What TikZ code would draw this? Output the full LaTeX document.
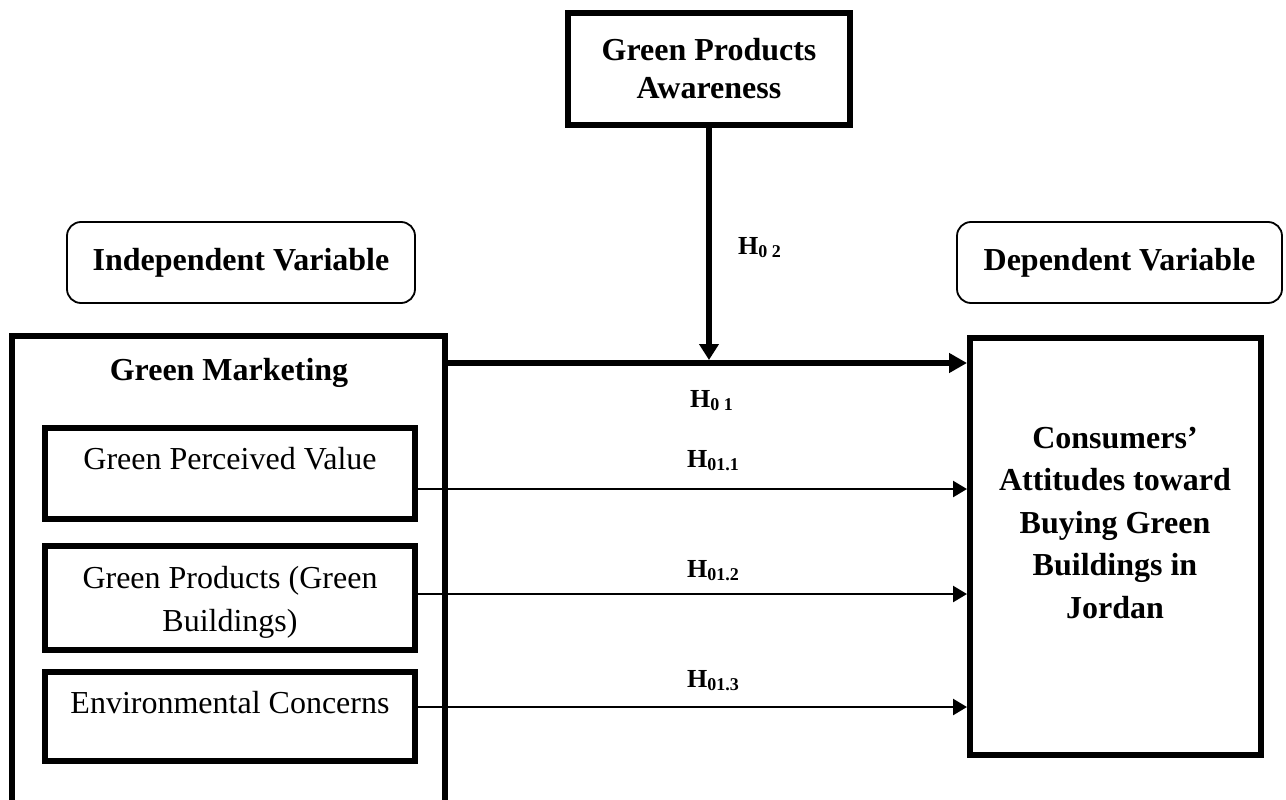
\documentclass[tikz,border=0pt]{standalone}
\usepackage{fontspec}
\setmainfont{Liberation Serif}
\usetikzlibrary{arrows.meta}
\newcommand\Hsub[1]{H\raisebox{-3pt}{\fontsize{18}{18}\selectfont #1}}
\begin{document}
\begin{tikzpicture}[x=1pt,y=-1pt,
  thickbox/.style={draw, line width=6pt, rectangle, inner sep=0pt},
  roundbox/.style={draw, line width=1.8pt, rounded corners=14pt, inner sep=0pt, font=\bfseries\fontsize{32}{38}\selectfont},
  bigtxt/.style={font=\bfseries\fontsize{32}{42.5}\selectfont, align=center, inner sep=0pt},
  regtxt/.style={font=\fontsize{32}{43}\selectfont, align=center, inner sep=0pt},
  hlabel/.style={font=\bfseries\fontsize{26}{26}\selectfont, inner sep=0pt, anchor=base west},
  fatarrow/.style={line width=6pt, -{Triangle[length=18pt,width=19pt]}},
  thinarrow/.style={line width=2.5pt, -{Triangle[length=14pt,width=16pt]}},
]
\useasboundingbox (0,0) rectangle (1286,800);
% coordinates for connector heights
\coordinate (y0) at (0,363);
\coordinate (y1) at (0,489);
\coordinate (y2) at (0,594);
\coordinate (y3) at (0,707);
\coordinate (jn) at (0,360);
% boxes
\node[thickbox, minimum width=282pt, minimum height=112pt, font=\bfseries\fontsize{32}{38}\selectfont, align=center] (top) at (709,69) {Green Products\\Awareness};
\node[roundbox, minimum width=348pt, minimum height=81pt] (indep) at (241,262.5) {Independent Variable};
\node[roundbox, minimum width=325pt, minimum height=81pt] (dep) at (1119.5,262.5) {Dependent Variable};
\node[thickbox, minimum width=433pt, minimum height=504pt] (gm) at (228.5,588) {};
\node[thickbox, minimum width=370pt, minimum height=91pt] (pv) at (230,473.5) {};
\node[thickbox, minimum width=370pt, minimum height=104pt] (gp) at (230,598) {};
\node[thickbox, minimum width=370pt, minimum height=89pt] (ec) at (230,716.5) {};
\node[thickbox, minimum width=291pt, minimum height=417pt] (cons) at (1115.5,546.5) {};
% texts
\node[bigtxt, anchor=base] (gmt) at (229,380) {Green Marketing};
\node[regtxt, anchor=base] (pvt) at (230,469) {Green Perceived Value};
\node[regtxt] (gpt) at (230,602) {Green Products (Green\\Buildings)};
\node[regtxt, anchor=base] (ect) at (230,713) {Environmental Concerns};
\node[bigtxt] (const) at (1115,523) {Consumers’\\Attitudes toward\\Buying Green\\Buildings in\\Jordan};
% hypothesis labels
\node[hlabel] (h02) at (738,254) {\Hsub{0 2}};
\node[hlabel] (h01) at (690,407) {\Hsub{0 1}};
\node[hlabel] (h011) at (687,467) {\Hsub{01.1}};
\node[hlabel] (h012) at (687,577) {\Hsub{01.2}};
\node[hlabel] (h013) at (687,687) {\Hsub{01.3}};
% connectors
\draw[fatarrow] (gm.east |- y0) -- (cons.west |- y0);
\draw[line width=6pt, -{Triangle[length=16pt,width=19pt]}] (top.south) -- (top.south |- jn);
\draw[thinarrow] (pv.east |- y1) -- (cons.west |- y1);
\draw[thinarrow] (gp.east |- y2) -- (cons.west |- y2);
\draw[thinarrow] (ec.east |- y3) -- (cons.west |- y3);
\end{tikzpicture}
\end{document}
